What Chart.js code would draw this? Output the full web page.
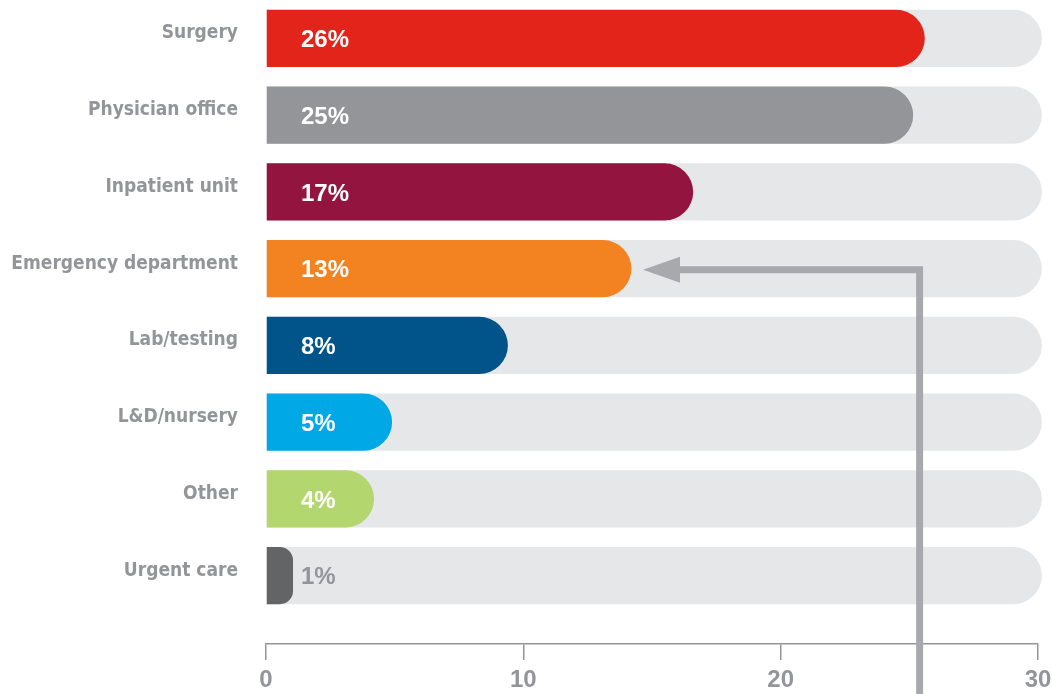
<!DOCTYPE html>
<html>
<head>
<meta charset="utf-8">
<script src="https://cdn.jsdelivr.net/npm/chart.js@4/dist/chart.umd.min.js"></script>
<style>
  html, body { margin: 0; padding: 0; background: #ffffff; }
  #wrap { width: 1052px; height: 694px; position: relative; }
</style>
</head>
<body>
<div id="wrap"><canvas id="chart-settings"></canvas></div>
<script>
// ── data ────────────────────────────────────────────────────────────────────
const categories = [
  "Surgery", "Physician office", "Inpatient unit", "Emergency department",
  "Lab/testing", "L&D/nursery", "Other", "Urgent care",
];
const values    = [25.6, 25.15, 16.6, 14.2, 9.4, 4.9, 4.2, 1.05];
const pctLabels = ["26%", "25%", "17%", "13%", "8%", "5%", "4%", "1%"];
const barColors = [
  "#e3241b", "#939598", "#93153f", "#f38321",
  "#00548a", "#00a9e6", "#b3d66f", "#636466",
];
const trackValue = 30.15;              // light grey track behind every bar
const xTicks     = [0, 10, 20, 30];

// arrow annotation pointing at the Emergency department bar
const arrowRow  = "Emergency department";
const arrowFrom = 25.4;   // x value of the vertical stem
const arrowTo   = 14.65;  // x value of the arrow tip

const GREY = "#939598";
const LABEL_FONT = "'DejaVu Sans Condensed', 'DejaVu Sans', sans-serif";
const NUM_FONT   = "'Liberation Sans', Arial, sans-serif";

// ── plugins ─────────────────────────────────────────────────────────────────
const pctLabelPlugin = {
  id: "pctLabels",
  afterDatasetsDraw(chart) {
    const { ctx, chartArea } = chart;
    const meta = chart.getDatasetMeta(0);
    ctx.save();
    ctx.font = `bold 24px ${NUM_FONT}`;
    ctx.textAlign = "left";
    ctx.textBaseline = "middle";
    meta.data.forEach((bar, i) => {
      ctx.fillStyle = i === meta.data.length - 1 ? GREY : "#ffffff";
      ctx.fillText(pctLabels[i], chartArea.left + 35, bar.y + 2);
    });
    ctx.restore();
  },
};

const arrowPlugin = {
  id: "arrow",
  afterDraw(chart) {
    const { ctx } = chart;
    const xs = chart.scales.x;
    const ys = chart.scales.y;
    const y  = ys.getPixelForValue(categories.indexOf(arrowRow)) + 1;
    const xStem = xs.getPixelForValue(arrowFrom);
    const xTip  = xs.getPixelForValue(arrowTo);
    const headLen = 37, headHalf = 13;
    ctx.save();
    ctx.strokeStyle = "#a7a9ac";
    ctx.fillStyle   = "#a7a9ac";
    ctx.lineWidth   = 7;
    ctx.lineJoin    = "miter";
    ctx.beginPath();
    ctx.moveTo(xStem, chart.height + 5);
    ctx.lineTo(xStem, y);
    ctx.lineTo(xTip + headLen - 2, y);
    ctx.stroke();
    ctx.beginPath();
    ctx.moveTo(xTip, y);
    ctx.lineTo(xTip + headLen, y - headHalf);
    ctx.lineTo(xTip + headLen, y + headHalf);
    ctx.closePath();
    ctx.fill();
    ctx.restore();
  },
};

// ── chart ───────────────────────────────────────────────────────────────────
new Chart(document.getElementById("chart-settings"), {
  type: "bar",
  data: {
    labels: categories,
    datasets: [
      {
        data:            values,
        backgroundColor: barColors,
        borderWidth:     0,
        borderRadius:    { topLeft: 0, bottomLeft: 0, topRight: 30, bottomRight: 30 },
        borderSkipped:   false,
        grouped:         false,
        barPercentage:   0.745,
        categoryPercentage: 1,
      },
      {
        data:            categories.map(() => trackValue),
        backgroundColor: "#e6e7e8",
        borderWidth:     0,
        borderRadius:    { topLeft: 0, bottomLeft: 0, topRight: 30, bottomRight: 30 },
        borderSkipped:   false,
        grouped:         false,
        clip:            false,
        barPercentage:   0.745,
        categoryPercentage: 1,
      },
    ],
  },
  options: {
    indexAxis:           "y",
    responsive:          true,
    maintainAspectRatio: false,
    animation:           false,
    layout: { padding: { left: 0, right: 14, top: 0, bottom: 0 } },
    plugins: {
      legend:  { display: false },
      tooltip: { enabled: false },
      // empty title used as a spacer between the bars and the x axis
      title: {
        display:  true,
        position: "bottom",
        text:     "",
        padding:  0,
        font:     { size: 30, lineHeight: 1 },
      },
    },
    scales: {
      x: {
        min:    0,
        max:    30,
        weight: 2500,
        afterBuildTicks: (axis) => { axis.ticks = xTicks.map((v) => ({ value: v })); },
        afterFit: (s) => { s.paddingLeft = 0; s.paddingRight = 0; s.height = 50; },
        grid: {
          drawOnChartArea: false,
          drawTicks:       true,
          tickLength:      16,
          color:           GREY,
          lineWidth:       1.5,
        },
        border: { display: true, color: GREY, width: 1.5 },
        ticks: {
          color:   GREY,
          padding: 6,
          font:    { family: NUM_FONT, size: 24, weight: "bold" },
        },
      },
      y: {
        grid:   { display: false },
        border: { display: false },
        afterFit: (s) => { s.width = 266; s.paddingTop = 0; s.paddingBottom = 0; },
        ticks: {
          color:       GREY,
          padding:     20,
          labelOffset: -5,
          font:        { family: LABEL_FONT, size: 19, weight: "bold" },
        },
      },
    },
  },
  plugins: [pctLabelPlugin, arrowPlugin],
});
</script>
</body>
</html>
